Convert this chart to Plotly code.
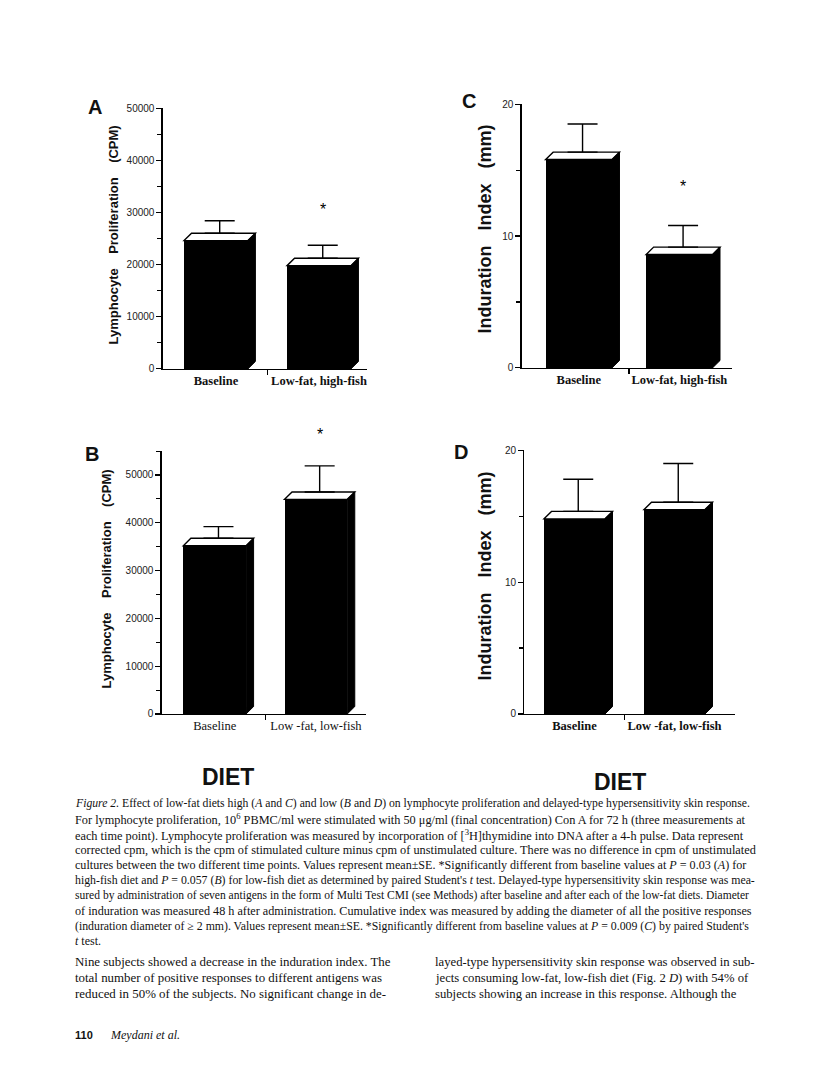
import plotly.graph_objects as go

W, H = 816, 1071

# ---------------- data ----------------
categories_high = ["Baseline", "Low-fat, high-fish"]
categories_low = ["Baseline", "Low -fat, low-fish"]

prolif_high_mean = [24600, 19800]   # panel A (CPM)
prolif_high_se = [3800, 3900]
prolif_low_mean = [35200, 44900]    # panel B (CPM)
prolif_low_se = [4000, 7000]
indur_high_mean = [15.8, 8.6]       # panel C (mm)
indur_high_se = [2.7, 2.2]
indur_low_mean = [14.8, 15.5]       # panel D (mm)
indur_low_se = [3.0, 3.5]

sig_A = [False, True]
sig_B = [False, True]
sig_C = [False, True]
sig_D = [False, False]

prolif_ticks = [0, 10000, 20000, 30000, 40000, 50000]
indur_ticks = [0, 10, 20]

NB = "\u00a0"

# ---------------- layout of panels (pixels) ----------------
panels = [
    dict(letter="A", cats=categories_high, mean=prolif_high_mean, se=prolif_high_se, sig=sig_A,
         x0=162.7, x1=367.0, y0=367.0, y1=103.3, yr=[0, 50000], xr=[-0.517, 1.466], bw=0.62,
         ticks=prolif_ticks, minor=5000, title="Lymphocyte" + NB * 4 + "Proliferation" + NB * 4 + "(CPM)",
         tsize=13, tx=113, ty=232, lx=95, ly=102, bold=True, star=36),
    dict(letter="B", cats=categories_low, mean=prolif_low_mean, se=prolif_low_se, sig=sig_B,
         x0=161.7, x1=366.0, y0=716.0, y1=450.1, yr=[0, 55000], xr=[-0.524, 1.495], bw=0.62,
         ticks=prolif_ticks, minor=5000, title="Lymphocyte" + NB * 4 + "Proliferation" + NB * 4 + "(CPM)",
         tsize=13, tx=107, ty=580, lx=92, ly=453, bold=False, star=32),
    dict(letter="C", cats=categories_high, mean=indur_high_mean, se=indur_high_se, sig=sig_C,
         x0=521.7, x1=731.7, y0=366.0, y1=99.3, yr=[0, 20], xr=[-0.568, 1.521], bw=0.66,
         ticks=indur_ticks, minor=5, title="Induration" + NB * 3 + "Index" + NB * 3 + "(mm)",
         tsize=18, tx=485, ty=226, lx=469, ly=96, bold=True, star=39),
    dict(letter="D", cats=categories_low, mean=indur_low_mean, se=indur_low_se, sig=sig_D,
         x0=524.3, x1=735.0, y0=716.0, y1=449.3, yr=[0, 20], xr=[-0.502, 1.605], bw=0.61,
         ticks=indur_ticks, minor=5, title="Induration" + NB * 3 + "Index" + NB * 3 + "(mm)",
         tsize=18, tx=485, ty=577, lx=461, ly=451, bold=True, star=36),
]

DEPTH = 7.5  # px of the 3-D extrusion


def px(x):
    return x / W


def py(y):
    return 1 - y / H


def note(x, y, text, size, family="Liberation Sans", weight="normal", xanchor="center", angle=0):
    return dict(x=px(x), y=py(y), xref="paper", yref="paper", text=text, showarrow=False,
                xanchor=xanchor, yanchor="middle", textangle=angle,
                font=dict(family=family, size=size, color="#111", weight=weight))


fig = go.Figure()
shapes = []
annotations = []
layout_axes = {}

for k, p in enumerate(panels):
    n = "" if k == 0 else str(k + 1)
    xa, ya = "x" + n, "y" + n
    ux = (p["xr"][1] - p["xr"][0]) / (p["x1"] - p["x0"])
    uy = (p["yr"][1] - p["yr"][0]) / (p["y0"] - p["y1"])
    dx, dy = DEPTH * ux, DEPTH * uy
    bw = p["bw"]
    xs = list(range(len(p["cats"])))

    fig.add_trace(go.Bar(x=xs, y=p["mean"], width=bw, xaxis=xa, yaxis=ya,
                         marker=dict(color="black", line=dict(width=0)), showlegend=False))

    # 3-D top face and side face
    for i, v in zip(xs, p["mean"]):
        a, b = i - bw / 2, i + bw / 2
        shapes.append(dict(type="path", xref=xa, yref=ya, layer="below",
                           path=f"M{a},{v} L{b},{v} L{b+dx},{v+dy} L{a+dx},{v+dy} Z",
                           fillcolor="white", line=dict(color="black", width=1.4)))
        shapes.append(dict(type="path", xref=xa, yref=ya, layer="below",
                           path=f"M{b},0 L{b},{v} L{b+dx},{v+dy} L{b+dx},{dy} Z",
                           fillcolor="black", line=dict(color="black", width=1)))

    # error bars from the back edge of the top face
    fig.add_trace(go.Scatter(
        x=[i + dx / 2 for i in xs], y=[v + dy for v in p["mean"]], xaxis=xa, yaxis=ya,
        mode="markers", marker=dict(opacity=0, size=1), showlegend=False, cliponaxis=False,
        error_y=dict(type="data", symmetric=False, array=[s - dy for s in p["se"]],
                     arrayminus=[0] * len(xs), width=15, thickness=1.4, color="black")))

    # significance stars (placed above the error bar, in axis-domain units)
    hpx = p["y0"] - p["y1"]
    for i, m, e, s in zip(xs, p["mean"], p["se"], p["sig"]):
        if s:
            frac = (m + e - p["yr"][0]) / (p["yr"][1] - p["yr"][0]) + p["star"] / hpx
            annotations.append(dict(x=i + dx / 2, y=frac, xref=xa, yref=ya + " domain", text="*",
                                    showarrow=False, xanchor="center", yanchor="middle",
                                    font=dict(family="Liberation Sans", size=16, color="black")))

    layout_axes["xaxis" + n] = dict(
        domain=[px(p["x0"]), px(p["x1"])], range=p["xr"], anchor=ya,
        showline=True, linecolor="black", linewidth=1.3, showgrid=False, zeroline=False,
        tickmode="array", tickvals=xs, ticktext=p["cats"], ticks="",
        tickfont=dict(family="Liberation Serif", size=12.5, color="#111",
                      weight="bold" if p["bold"] else "normal"),
        minor=dict(tickmode="array", tickvals=[0.5], ticks="outside", ticklen=5,
                   tickwidth=1.2, tickcolor="black"),
        fixedrange=True)
    layout_axes["yaxis" + n] = dict(
        domain=[py(p["y0"]), py(p["y1"])], range=p["yr"], anchor=xa,
        showline=True, linecolor="black", linewidth=1.3, showgrid=False, zeroline=False,
        tickmode="array", tickvals=p["ticks"], ticks="outside", ticklen=5, tickwidth=1.2,
        tickcolor="black", tickformat="d",
        tickfont=dict(family="Liberation Sans", size=10, color="#222"),
        minor=dict(dtick=p["minor"], ticks="outside", ticklen=4, tickwidth=1.1, tickcolor="black"),
        fixedrange=True)

    annotations.append(note(p["tx"], p["ty"], p["title"], p["tsize"], weight="bold", angle=-90))
    annotations.append(note(p["lx"], p["ly"], p["letter"], 20, weight="bold"))

# DIET labels
for x, y in [(228, 780), (620, 785)]:
    annotations.append(note(x, y, "DIET", 23, weight="bold"))

caption_lines = [
    "<i>Figure 2.</i> Effect of low-fat diets high (<i>A</i> and <i>C</i>) and low (<i>B</i> and <i>D</i>) on lymphocyte proliferation and delayed-type hypersensitivity skin response.",
    "For lymphocyte proliferation, 10<sup>6</sup> PBMC/ml were stimulated with 50 μg/ml (final concentration) Con A for 72 h (three measurements at",
    "each time point). Lymphocyte proliferation was measured by incorporation of [<sup>3</sup>H]thymidine into DNA after a 4-h pulse. Data represent",
    "corrected cpm, which is the cpm of stimulated culture minus cpm of unstimulated culture. There was no difference in cpm of unstimulated",
    "cultures between the two different time points. Values represent mean±SE. *Significantly different from baseline values at <i>P</i> = 0.03 (<i>A</i>) for",
    "high-fish diet and <i>P</i> = 0.057 (<i>B</i>) for low-fish diet as determined by paired Student's <i>t</i> test. Delayed-type hypersensitivity skin response was mea-",
    "sured by administration of seven antigens in the form of Multi Test CMI (see Methods) after baseline and after each of the low-fat diets. Diameter",
    "of induration was measured 48 h after administration. Cumulative index was measured by adding the diameter of all the positive responses",
    "(induration diameter of ≥ 2 mm). Values represent mean±SE. *Significantly different from baseline values at <i>P</i> = 0.009 (<i>C</i>) by paired Student's",
    "<i>t</i> test.",
]
# per-line sizes approximate the justified block of the original
caption_sizes = [11.7, 12.3, 12.3, 12.3, 12.1, 11.8, 11.55, 12.2, 11.8, 12.0]
for j, (line, sz) in enumerate(zip(caption_lines, caption_sizes)):
    annotations.append(note(73, 807 + 15.45 * j, line, sz, family="Liberation Serif", xanchor="left"))

body_left = [
    "Nine subjects showed a decrease in the induration index. The",
    "total number of positive responses to different antigens was",
    "reduced in 50% of the subjects. No significant change in de-",
]
body_right = [
    "layed-type hypersensitivity skin response was observed in sub-",
    "jects consuming low-fat, low-fish diet (Fig. 2 <i>D</i>) with 54% of",
    "subjects showing an increase in this response. Although the",
]
for j, (l, r) in enumerate(zip(body_left, body_right)):
    annotations.append(note(73, 967 + 16 * j, l, 12.9, family="Liberation Serif", xanchor="left"))
    annotations.append(note(433, 967 + 16 * j, r, 12.7, family="Liberation Serif", xanchor="left"))

annotations.append(note(73, 1041, "110", 11, weight="bold", xanchor="left"))
annotations.append(note(108, 1041, "<i>Meydani et al.</i>", 12, family="Liberation Serif", xanchor="left"))

fig.update_layout(width=W, height=H, autosize=False, margin=dict(l=0, r=0, t=0, b=0),
                  paper_bgcolor="white", plot_bgcolor="rgba(0,0,0,0)", showlegend=False,
                  bargap=0, shapes=shapes, annotations=annotations, **layout_axes)

fig.write_html("out.html", config={"displayModeBar": False, "staticPlot": True},
               post_script="document.body.style.margin='0';document.body.style.padding='0';")
